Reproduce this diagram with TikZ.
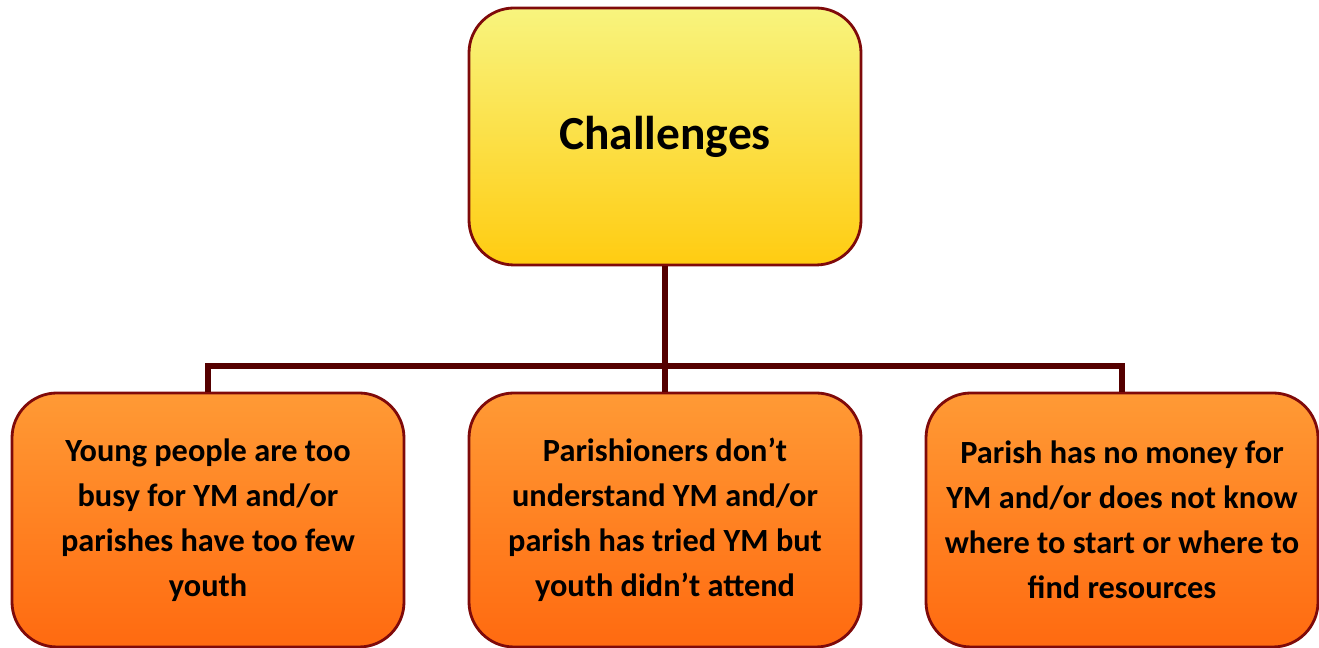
\documentclass[tikz,border=0pt]{standalone}
\usepackage{fontspec}
\setmainfont{Carlito}
\usepackage{xcolor}
\usetikzlibrary{positioning,calc}

\definecolor{boxline}{HTML}{7F0A0A}
\definecolor{linkline}{HTML}{550000}
\definecolor{topA}{HTML}{F8F47E}
\definecolor{topB}{HTML}{FFCC11}
\definecolor{botA}{HTML}{FF9A35}
\definecolor{botB}{HTML}{FF6A10}

\begin{document}
\begin{tikzpicture}[
    headbox/.style={draw=boxline, line width=0.8pt, rounded corners=0.45cm,
      top color=topA, bottom color=topB, minimum width=3.92cm,
      minimum height=2.57cm, inner sep=0pt, align=center,
      font=\fontsize{13.5}{16}\selectfont\bfseries},
    itembox/.style={draw=boxline, line width=0.8pt, rounded corners=0.45cm,
      top color=botA, bottom color=botB, minimum width=3.92cm,
      minimum height=2.54cm, inner sep=0pt, align=center,
      font=\fontsize{9.2}{12.8}\selectfont\bfseries},
    link/.style={draw=linkline, line width=1.6pt}
  ]
  \useasboundingbox (0,0) rectangle (13.19,-6.48);

  \node[headbox] (head) at (6.65,-1.365) {Challenges};
  \node[itembox] (busy) at (2.08,-5.20)
    {Young people are too\\busy for YM and/or\\parishes have too few\\youth};
  \node[itembox] (aware) at (6.65,-5.20)
    {Parishioners don’t\\understand YM and/or\\parish has tried YM but\\youth didn’t attend};
  \node[itembox] (money) at (11.22,-5.20)
    {Parish has no money for\\YM and/or does not know\\where to start or where to\\find resources};

  \coordinate (bus) at (6.65,-3.66);
  \draw[link] (head.south) -- (bus);
  \draw[link] (busy.north) |- (bus) -| (money.north);
  \draw[link] (bus) -- (aware.north);
\end{tikzpicture}
\end{document}
